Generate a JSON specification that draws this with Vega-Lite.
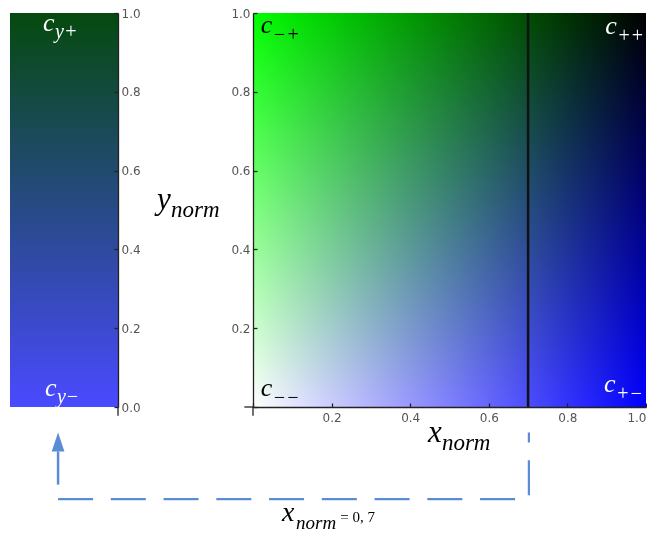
{
  "$schema": "https://vega.github.io/schema/vega-lite/v6.json",
  "padding": {"left": 10, "top": 7, "right": 0, "bottom": 0},
  "autosize": {"type": "pad"},
  "bounds": "flush",
  "spacing": 135,
  "background": "white",
  "config": {
    "view": {"stroke": null},
    "axis": {
      "grid": false,
      "labelFont": "DejaVu Sans",
      "labelFontSize": 12,
      "labelColor": "#555555",
      "domainColor": "#222222",
      "tickColor": "#222222",
      "domainWidth": 1.3,
      "tickWidth": 1.3,
      "tickSize": -4,
      "title": null
    }
  },
  "datasets": {
    "box": [{"x": 0, "x2": 1, "y": 0, "y2": 1}],
    "marker": [{"x": 0.7, "y": 0, "y2": 1}],
    "rightStubs": [
      {"x": 0, "x2": 0, "y": -0.022, "y2": 0},
      {"x": -0.022, "x2": 0, "y": 0, "y2": 0}
    ],
    "leftStubs": [{"x": 1, "x2": 1, "y": -0.022, "y2": 0}],
    "connector": [
      {"k": 1, "x": -0.496, "y": -0.234},
      {"k": 2, "x": 0.702, "y": -0.234},
      {"k": 3, "x": 0.702, "y": -0.065}
    ],
    "arrow": [{"x": -0.496, "y": -0.197, "y2": -0.113, "tip": -0.089}],
    "rightLabels": [
      {"kind": "corner", "m": "c", "s": "−+", "x": 0.02, "y": 0.949, "bg": "light"},
      {"kind": "corner", "m": "c", "s": "++", "x": 0.896, "y": 0.947, "bg": "dark"},
      {"kind": "corner", "m": "c", "s": "−−", "x": 0.02, "y": 0.029, "bg": "light"},
      {"kind": "corner", "m": "c", "s": "+−", "x": 0.893, "y": 0.039, "bg": "dark"},
      {"kind": "title", "m": "x", "s": "norm", "x": 0.445, "y": -0.09, "bg": "light"},
      {"kind": "title", "m": "y", "s": "norm", "x": -0.244, "y": 0.503, "bg": "light"},
      {"kind": "note", "m": "x", "s": "norm", "x": 0.074, "y": -0.29, "bg": "light"}
    ],
    "valueLabel": [{"t": "= 0, 7", "x": 0.222, "y": -0.293}],
    "leftLabels": [
      {"m": "c", "s": "y+", "x": 0.306, "y": 0.954},
      {"m": "c", "s": "y−", "x": 0.324, "y": 0.027}
    ]
  },
  "hconcat": [
    {
      "width": 108,
      "height": 394,
      "layer": [
        {
          "data": {"name": "box"},
          "mark": {
            "type": "rect",
            "fill": {
              "gradient": "linear",
              "x1": 0, "y1": 1, "x2": 0, "y2": 0,
              "stops": [
                {"offset": 0, "color": "#4a4aff"},
                {"offset": 1, "color": "#054a0e"}
              ]
            }
          },
          "encoding": {
            "x": {"field": "x", "type": "quantitative", "scale": {"domain": [0, 1], "nice": false, "zero": false}, "axis": null},
            "x2": {"field": "x2"},
            "y": {
              "field": "y", "type": "quantitative",
              "scale": {"domain": [0, 1], "nice": false, "zero": false},
              "axis": {
                "orient": "right",
                "zindex": 1,
                "values": [0, 0.05, 0.1, 0.15, 0.2, 0.25, 0.3, 0.35, 0.4, 0.45, 0.5, 0.55, 0.6, 0.65, 0.7, 0.75, 0.8, 0.85, 0.9, 0.95, 1],
                "labelExpr": "abs(datum.value*5 - round(datum.value*5)) < 0.01 ? format(datum.value, '.1f') : ''",
                "labelPadding": 7
              }
            },
            "y2": {"field": "y2"}
          }
        },
        {
          "data": {"name": "leftStubs"},
          "mark": {"type": "rule", "color": "#222222", "strokeWidth": 1.3},
          "encoding": {
            "x": {"field": "x", "type": "quantitative"},
            "y": {"field": "y", "type": "quantitative"},
            "y2": {"field": "y2"}
          }
        },
        {
          "data": {"name": "leftLabels"},
          "mark": {"type": "text", "align": "left", "baseline": "alphabetic", "font": "Liberation Serif", "fontStyle": "italic", "fontSize": 26, "color": "white"},
          "encoding": {
            "x": {"field": "x", "type": "quantitative"},
            "y": {"field": "y", "type": "quantitative"},
            "text": {"field": "m"}
          }
        },
        {
          "data": {"name": "leftLabels"},
          "mark": {"type": "text", "align": "left", "baseline": "alphabetic", "font": "Liberation Serif", "fontStyle": "italic", "fontSize": 20, "dx": 12, "dy": 7, "color": "white"},
          "encoding": {
            "x": {"field": "x", "type": "quantitative"},
            "y": {"field": "y", "type": "quantitative"},
            "text": {"field": "s"}
          }
        }
      ]
    },
    {
      "width": 393,
      "height": 394,
      "layer": [
        {
          "data": {"name": "box"},
          "mark": {
            "type": "rect",
            "fill": {
              "gradient": "linear",
              "x1": 0, "y1": 0, "x2": 1, "y2": 0,
              "stops": [
                {"offset": 0, "color": "#ffffff"},
                {"offset": 1, "color": "#0000ff"}
              ]
            }
          },
          "encoding": {
            "x": {
              "field": "x", "type": "quantitative",
              "scale": {"domain": [0, 1], "nice": false, "zero": false},
              "axis": {
                "orient": "bottom",
                "zindex": 1,
                "values": [0, 0.05, 0.1, 0.15, 0.2, 0.25, 0.3, 0.35, 0.4, 0.45, 0.5, 0.55, 0.6, 0.65, 0.7, 0.75, 0.8, 0.85, 0.9, 0.95, 1],
                "labelExpr": "abs(datum.value*5 - round(datum.value*5)) < 0.01 && datum.value > 0.01 ? format(datum.value, '.1f') : ''",
                "labelPadding": 9
              }
            },
            "x2": {"field": "x2"},
            "y": {
              "field": "y", "type": "quantitative",
              "scale": {"domain": [0, 1], "nice": false, "zero": false},
              "axis": {
                "orient": "left",
                "zindex": 1,
                "values": [0, 0.05, 0.1, 0.15, 0.2, 0.25, 0.3, 0.35, 0.4, 0.45, 0.5, 0.55, 0.6, 0.65, 0.7, 0.75, 0.8, 0.85, 0.9, 0.95, 1],
                "labelExpr": "abs(datum.value*5 - round(datum.value*5)) < 0.01 && datum.value > 0.01 ? format(datum.value, '.1f') : ''",
                "labelPadding": 7
              }
            },
            "y2": {"field": "y2"}
          }
        },
        {
          "data": {"name": "box"},
          "mark": {
            "type": "rect",
            "blend": "multiply",
            "fill": {
              "gradient": "linear",
              "x1": 0, "y1": 1, "x2": 0, "y2": 0,
              "stops": [
                {"offset": 0, "color": "#ffffff"},
                {"offset": 1, "color": "#00ff00"}
              ]
            }
          },
          "encoding": {
            "x": {"field": "x", "type": "quantitative"},
            "x2": {"field": "x2"},
            "y": {"field": "y", "type": "quantitative"},
            "y2": {"field": "y2"}
          }
        },
        {
          "data": {"name": "rightStubs"},
          "mark": {"type": "rule", "color": "#222222", "strokeWidth": 1.3},
          "encoding": {
            "x": {"field": "x", "type": "quantitative"},
            "x2": {"field": "x2"},
            "y": {"field": "y", "type": "quantitative"},
            "y2": {"field": "y2"}
          }
        },
        {
          "data": {"name": "marker"},
          "mark": {"type": "rule", "color": "#111111", "strokeWidth": 2.5},
          "encoding": {
            "x": {"field": "x", "type": "quantitative"},
            "y": {"field": "y", "type": "quantitative"},
            "y2": {"field": "y2"}
          }
        },
        {
          "data": {"name": "connector"},
          "mark": {"type": "line", "color": "#5b8bd5", "strokeWidth": 2.2, "strokeDash": [35, 17.75]},
          "encoding": {
            "x": {"field": "x", "type": "quantitative"},
            "y": {"field": "y", "type": "quantitative"},
            "order": {"field": "k", "type": "quantitative"}
          }
        },
        {
          "data": {"name": "arrow"},
          "mark": {"type": "rule", "color": "#5b8bd5", "strokeWidth": 2.5},
          "encoding": {
            "x": {"field": "x", "type": "quantitative"},
            "y": {"field": "y", "type": "quantitative"},
            "y2": {"field": "y2"}
          }
        },
        {
          "data": {"name": "arrow"},
          "mark": {"type": "point", "shape": "M0,-1L0.67,1L-0.67,1Z", "filled": true, "size": 361, "color": "#5b8bd5", "opacity": 1},
          "encoding": {
            "x": {"field": "x", "type": "quantitative"},
            "y": {"field": "tip", "type": "quantitative"}
          }
        },
        {
          "data": {"name": "rightLabels"},
          "transform": [{"filter": "datum.kind === 'corner'"}],
          "mark": {"type": "text", "align": "left", "baseline": "alphabetic", "font": "Liberation Serif", "fontStyle": "italic", "fontSize": 26},
          "encoding": {
            "x": {"field": "x", "type": "quantitative"},
            "y": {"field": "y", "type": "quantitative"},
            "text": {"field": "m"},
            "color": {"field": "bg", "type": "nominal", "scale": {"domain": ["light", "dark"], "range": ["#000000", "#ffffff"]}, "legend": null}
          }
        },
        {
          "data": {"name": "rightLabels"},
          "transform": [{"filter": "datum.kind === 'corner'"}],
          "mark": {"type": "text", "align": "left", "baseline": "alphabetic", "font": "Liberation Serif", "fontStyle": "italic", "fontSize": 20, "dx": 12, "dy": 8},
          "encoding": {
            "x": {"field": "x", "type": "quantitative"},
            "y": {"field": "y", "type": "quantitative"},
            "text": {"field": "s"},
            "color": {"field": "bg", "type": "nominal", "legend": null}
          }
        },
        {
          "data": {"name": "rightLabels"},
          "transform": [{"filter": "datum.kind === 'title'"}],
          "mark": {"type": "text", "align": "left", "baseline": "alphabetic", "font": "Liberation Serif", "fontStyle": "italic", "fontSize": 31, "color": "#000000"},
          "encoding": {
            "x": {"field": "x", "type": "quantitative"},
            "y": {"field": "y", "type": "quantitative"},
            "text": {"field": "m"}
          }
        },
        {
          "data": {"name": "rightLabels"},
          "transform": [{"filter": "datum.kind === 'title'"}],
          "mark": {"type": "text", "align": "left", "baseline": "alphabetic", "font": "Liberation Serif", "fontStyle": "italic", "fontSize": 23, "dx": 14, "dy": 8, "color": "#000000"},
          "encoding": {
            "x": {"field": "x", "type": "quantitative"},
            "y": {"field": "y", "type": "quantitative"},
            "text": {"field": "s"}
          }
        },
        {
          "data": {"name": "rightLabels"},
          "transform": [{"filter": "datum.kind === 'note'"}],
          "mark": {"type": "text", "align": "left", "baseline": "alphabetic", "font": "Liberation Serif", "fontStyle": "italic", "fontSize": 28, "color": "#000000"},
          "encoding": {
            "x": {"field": "x", "type": "quantitative"},
            "y": {"field": "y", "type": "quantitative"},
            "text": {"field": "m"}
          }
        },
        {
          "data": {"name": "rightLabels"},
          "transform": [{"filter": "datum.kind === 'note'"}],
          "mark": {"type": "text", "align": "left", "baseline": "alphabetic", "font": "Liberation Serif", "fontStyle": "italic", "fontSize": 19, "dx": 14, "dy": 8, "color": "#000000"},
          "encoding": {
            "x": {"field": "x", "type": "quantitative"},
            "y": {"field": "y", "type": "quantitative"},
            "text": {"field": "s"}
          }
        },
        {
          "data": {"name": "valueLabel"},
          "mark": {"type": "text", "align": "left", "baseline": "alphabetic", "font": "Liberation Serif", "fontSize": 15, "color": "#000000"},
          "encoding": {
            "x": {"field": "x", "type": "quantitative"},
            "y": {"field": "y", "type": "quantitative"},
            "text": {"field": "t"}
          }
        }
      ]
    }
  ]
}
